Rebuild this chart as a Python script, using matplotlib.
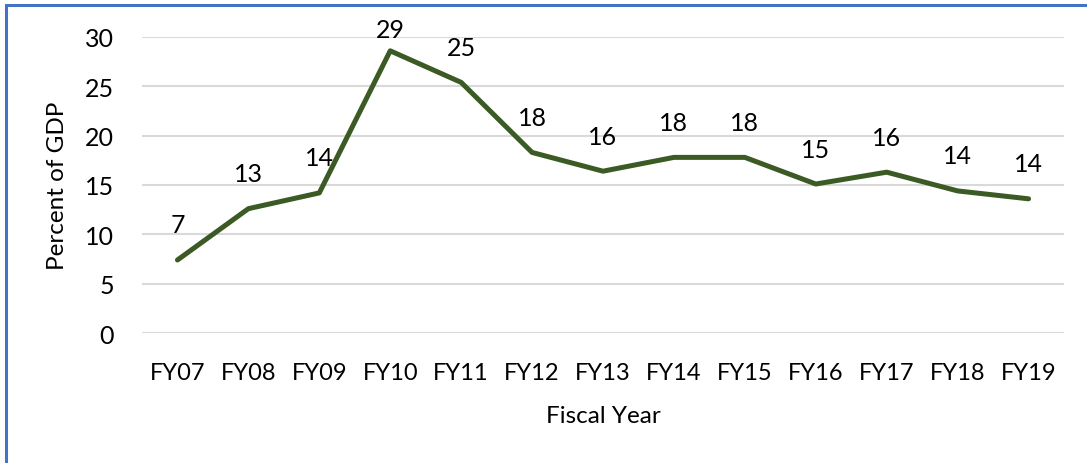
import matplotlib
matplotlib.use("Agg")
import matplotlib.pyplot as plt
from matplotlib.patches import Rectangle

years = ["FY07", "FY08", "FY09", "FY10", "FY11", "FY12", "FY13",
         "FY14", "FY15", "FY16", "FY17", "FY18", "FY19"]
values = [7.4, 12.6, 14.2, 28.6, 25.4, 18.3, 16.4, 17.8, 17.8, 15.1, 16.3, 14.4, 13.6]
yticks = [0, 5, 10, 15, 20, 25, 30]

plt.rcParams['font.family'] = ['Lato', 'DejaVu Sans']

W, H = 1087, 464
fig = plt.figure(figsize=(W / 100, H / 100), dpi=100)
ax = fig.add_axes([142 / W, (H - 334) / H, (1064 - 142) / W, (334 - 38) / H])

x = list(range(len(years)))
ax.plot(x, values, color="#3B5A24", lw=3.6, solid_capstyle="round", solid_joinstyle="round", zorder=3)

ax.set_xlim(-0.5, len(years) - 0.5)
ax.set_ylim(0, 30)
ax.set_yticks(yticks)
ax.set_yticklabels([str(t) for t in yticks])
ax.set_xticks(x)
ax.set_xticklabels(years)
ax.tick_params(axis="both", length=0, colors="black")
ax.tick_params(axis="y", pad=20, labelsize=18)
ax.tick_params(axis="x", pad=21, labelsize=17)
ax.grid(axis="y", color="#D9D9D9", lw=1.5, zorder=0)
ax.set_axisbelow(True)
for s in ax.spines.values():
    s.set_visible(False)

ax.set_ylabel("Percent of GDP", fontsize=17.5, labelpad=12)
ax.set_xlabel("Fiscal Year", fontsize=17.5, labelpad=16)

# data labels above points (kept inside the figure)
fig.canvas.draw()
for xi, v in zip(x, values):
    dx, dy = ax.transData.transform((xi, v))
    ly = min(dy + 35, H - 31)
    fig.text(dx / W, ly / H, f"{round(v)}", ha="center", va="center", fontsize=18, color="black")

# blue frame (top and left visible)
fig.add_artist(Rectangle((6 / W, -0.05), 1.1, (H - 6) / H + 0.05, transform=fig.transFigure,
                         fill=False, edgecolor="#4472C4", lw=2.2))

fig.savefig("out.png", dpi=100)
